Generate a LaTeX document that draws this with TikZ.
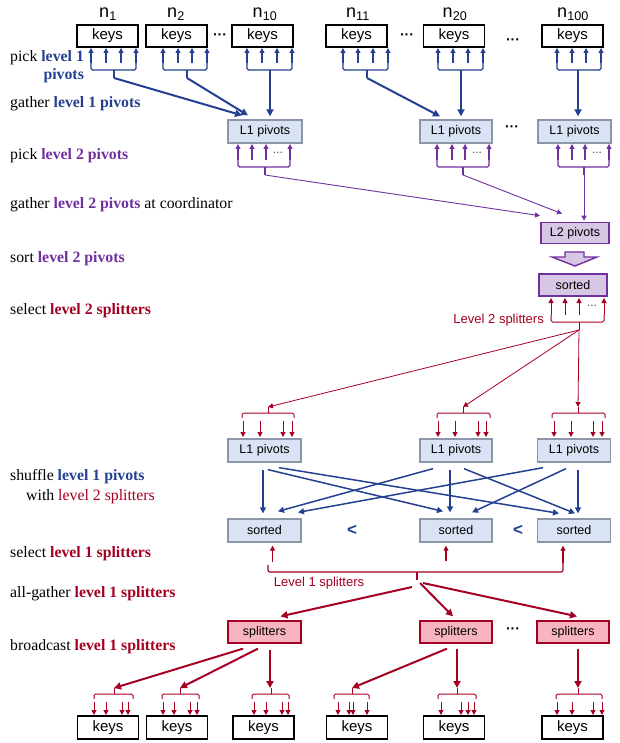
\documentclass[tikz,border=0pt]{standalone}
\usepackage{fontspec}
\setmainfont{Liberation Serif}
\setsansfont{Liberation Sans}
\usetikzlibrary{arrows.meta,calc}
\definecolor{cblue}{RGB}{36,64,145}
\definecolor{cpurple}{RGB}{112,48,160}
\definecolor{cred}{RGB}{165,0,33}
\definecolor{fblue}{RGB}{218,227,243}
\definecolor{bgray}{RGB}{140,150,168}
\definecolor{fpurple}{RGB}{216,199,228}
\definecolor{fpink}{RGB}{248,180,192}
\newcommand{\upfan}[7]{%
  \foreach \xx in {#2} {\draw[#1,arr] (\xx,#7) -- (\xx,#6);}
  \draw[#1,rounded corners=1.5pt] (#3,#7) -- (#3,#7+7) -- (#4,#7+7) -- (#4,#7);
  \draw[#1] (#5,#7+7) -- (#5,#7+15);
}
\newcommand{\downfan}[7]{%
  \draw[#1] (#5,#6) -- (#5,#6+6);
  \draw[#1,rounded corners=1.5pt] (#3,#6+11) -- (#3,#6+6) -- (#4,#6+6) -- (#4,#6+11);
  \foreach \xx in {#2} {\draw[#1,arr] (\xx,#6+14) -- (\xx,#7);}
}
\begin{document}
\begin{tikzpicture}[x=1pt,y=-1pt,
  arr/.style={-{Triangle[length=5pt,width=5pt]}},
  bigarr/.style={-{Triangle[length=7pt,width=7pt]}},
  kbox/.style={draw=black,line width=1.6pt,minimum width=61pt,minimum height=22pt,inner sep=0pt,font=\sffamily\fontsize{15}{15}\selectfont},
  lbox/.style={draw=bgray,fill=fblue,line width=1.3pt,minimum width=73pt,minimum height=23pt,inner sep=0pt,font=\sffamily\fontsize{12.5}{12.5}\selectfont},
  pbox/.style={draw=cpurple,fill=fpurple,line width=1.6pt,minimum width=68pt,minimum height=21pt,inner sep=0pt,font=\sffamily\fontsize{12.5}{12.5}\selectfont},
  sbox/.style={draw=cred,fill=fpink,line width=1.3pt,minimum width=73pt,minimum height=22pt,inner sep=0pt,font=\sffamily\fontsize{12.5}{12.5}\selectfont},
  nlab/.style={font=\sffamily\fontsize{18}{18}\selectfont},
  lab/.style={anchor=base west,inner sep=0pt,font=\rmfamily\fontsize{15.8}{17}\selectfont},
  dotl/.style={font=\sffamily\bfseries\fontsize{14}{14}\selectfont},
  sdot/.style={font=\sffamily\fontsize{10}{10}\selectfont},
  gath/.style={cblue,line width=2pt,bigarr},
  shuf/.style={cblue,line width=1.5pt,-{Triangle[length=6pt,width=6pt]}},
  bcast/.style={cred,line width=2pt,bigarr},
  rthin/.style={cred,line width=0.8pt,-{Triangle[length=5pt,width=5pt]}},
  rmid/.style={cred,line width=1.2pt},
]
\useasboundingbox (0,0) rectangle (619,743);

% ---------- left labels ----------
\node[lab] (lab1) at (10,62) {pick \textcolor{cblue}{\bfseries level 1}};
\node[lab,anchor=base east] (lab1b) at (lab1.base east |- 0,80) {\textcolor{cblue}{\bfseries pivots}};
\node[lab] (lab2) at (10,108) {gather \textcolor{cblue}{\bfseries level 1 pivots}};
\node[lab] (lab3) at (10,160) {pick \textcolor{cpurple}{\bfseries level 2 pivots}};
\node[lab] (lab4) at (10,208) {gather \textcolor{cpurple}{\bfseries level 2 pivots} at coordinator};
\node[lab] (lab5) at (10,262) {sort \textcolor{cpurple}{\bfseries level 2 pivots}};
\node[lab] (lab6) at (10,314) {select \textcolor{cred}{\bfseries level 2 splitters}};
\node[lab] (lab7) at (10,480) {shuffle \textcolor{cblue}{\bfseries level 1 pivots}};
\node[lab] (lab7b) at (26,500) {with \textcolor{cred}{level 2 splitters}};
\node[lab] (lab8) at (10,557) {select \textcolor{cred}{\bfseries level 1 splitters}};
\node[lab] (lab9) at (10,597) {all-gather \textcolor{cred}{\bfseries level 1 splitters}};
\node[lab] (lab10) at (10,650) {broadcast \textcolor{cred}{\bfseries level 1 splitters}};

% ---------- top keys ----------
\node[kbox] (k1) at (107.5,36) {keys};
\node[kbox] (k2) at (176.5,36) {keys};
\node[kbox] (k3) at (262.5,36) {keys};
\node[kbox] (k4) at (356.5,36) {keys};
\node[kbox] (k5) at (454,36) {keys};
\node[kbox] (k6) at (572.5,36) {keys};
\node[nlab] (n1) at (108,14) {n\textsubscript{1}};
\node[nlab] (n2) at (176,14) {n\textsubscript{2}};
\node[nlab] (n10) at (265,14) {n\textsubscript{10}};
\node[nlab] (n11) at (358,14) {n\textsubscript{11}};
\node[nlab] (n20) at (455,14) {n\textsubscript{20}};
\node[nlab] (n100) at (573,14) {n\textsubscript{100}};
\node[dotl] (d1) at (220,37) {···};
\node[dotl] (d2) at (407,37) {···};
\node[dotl] (d3) at (513,42) {···};

% blue pick fans
\upfan{cblue,line width=1.1pt}{91,106,121,136}{91}{136}{114}{48}{63}
\upfan{cblue,line width=1.1pt}{163,178,192,207}{163}{207}{187}{48}{63}
\upfan{cblue,line width=1.1pt}{247,262,277,292}{247}{292}{270}{48}{63}
\upfan{cblue,line width=1.1pt}{343,358,373,388}{343}{388}{367}{48}{63}
\upfan{cblue,line width=1.1pt}{438,453,468,483}{438}{483}{461}{48}{63}
\upfan{cblue,line width=1.1pt}{557,572,586,601}{557}{601}{578}{48}{63}
\coordinate (t1) at (114,78);
\coordinate (t2) at (187,78);
\coordinate (t3) at (270,78);
\coordinate (t4) at (367,78);
\coordinate (t5) at (461,78);
\coordinate (t6) at (578,78);

% ---------- L1 pivots (top) ----------
\node[lbox,minimum width=74pt] (la) at (265,131.5) {L1 pivots};
\node[lbox,minimum width=72pt] (lb) at (456,131.5) {L1 pivots};
\node[lbox] (lc) at (574.5,131.5) {L1 pivots};
\node[dotl] (d4) at (512,129) {···};

\draw[gath] (t1) -- ($(la.north)+(-23,-4)$);
\draw[gath] (t2) -- ($(la.north)+(-17,-4)$);
\draw[gath] (t3) -- ($(t3 |- la.north)+(0,-3)$);
\draw[gath] (t4) -- ($(lb.north)+(-16,-3)$);
\draw[gath] (t5) -- ($(t5 |- lb.north)+(0,-3)$);
\draw[gath] (t6) -- ($(t6 |- lc.north)+(0,-3)$);

% purple pick fans
\upfan{cpurple,line width=1.1pt}{238,252,266,290}{238}{290}{265}{144}{160}
\upfan{cpurple,line width=1.1pt}{437,452,465,489}{437}{489}{463}{144}{160}
\upfan{cpurple,line width=1.1pt}{558,572,585,609}{558}{609}{584}{144}{160}
\node[sdot] (e1) at (278,154) {···};
\node[sdot] (e2) at (477,154) {···};
\node[sdot] (e3) at (597,154) {···};
\coordinate (p1) at (265,175);
\coordinate (p2) at (463,175);
\coordinate (p3) at (584,175);

% ---------- L2 pivots ----------
\node[pbox] (l2) at (575,233) {L2 pivots};
\draw[cpurple,line width=0.9pt,-{Triangle[length=5pt,width=5pt]}] (p1) -- ($(l2.north)+(-35,-6)$);
\draw[cpurple,line width=0.9pt,-{Triangle[length=5pt,width=5pt]}] (p2) -- ($(l2.north)+(-13,-8)$);
\draw[cpurple,line width=0.9pt,-{Triangle[length=5pt,width=5pt]}] (p3) -- ($(p3 |- l2.north)+(0,-1)$);

\draw[cpurple,fill=fpurple,line width=1.4pt] (565,252) -- (584,252) -- (584,257) -- (597,257) -- (575,266) -- (552,257) -- (565,257) -- cycle;
\node[pbox,minimum height=22pt] (sp) at (573,285) {sorted};

\upfan{cred,line width=1pt}{551,565,579,604}{551}{604}{579}{298}{315}
\node[sdot] (e4) at (592,307) {···};
\coordinate (s2) at (579,330);
\node[anchor=east,inner sep=0pt,text=cred,font=\sffamily\fontsize{13}{13}\selectfont] (lv2) at (544,320) {Level 2 splitters};

% ---------- middle L1 pivots ----------
\node[lbox] (ma) at (264.5,450.5) {L1 pivots};
\node[lbox,minimum width=72pt] (mb) at (456,450.5) {L1 pivots};
\node[lbox] (mc) at (574,450.5) {L1 pivots};
\coordinate (m1) at (268,407);
\coordinate (m2) at (463,407);
\coordinate (m3) at (578,407);
\draw[rthin] (s2) -- (m1);
\draw[rthin] (s2) -- (m2);
\draw[rthin] (s2) -- (m3);
\downfan{cred,line width=1pt}{243,260,283,292}{242}{294}{268}{407}{437}
\downfan{cred,line width=1pt}{438,455,478,486}{437}{490}{463}{407}{437}
\downfan{cred,line width=1pt}{554,571,593,602}{552}{605}{578}{407}{437}

% ---------- sorted (blue) ----------
\node[lbox] (sa) at (264.5,530.5) {sorted};
\node[lbox,minimum width=72pt] (sb) at (456,530.5) {sorted};
\node[lbox] (sc) at (574,530.5) {sorted};
\node[text=cblue,font=\sffamily\bfseries\fontsize{17}{17}\selectfont] (lt1) at (352,530) {<};
\node[text=cblue,font=\sffamily\bfseries\fontsize{17}{17}\selectfont] (lt2) at (518,530) {<};

\draw[shuf] ($(ma.south)+(-1.5,7)$) -- ($(sa.north)+(-1.5,-5)$);
\draw[shuf] ($(ma.south)+(3.5,7)$) -- ($(sb.north)+(-13,-7)$);
\draw[shuf] ($(ma.south)+(14.5,5)$) -- ($(sc.north)+(-15,-5)$);
\draw[shuf] ($(mb.south)+(-23,6)$) -- ($(sa.north)+(13.5,-7)$);
\draw[shuf] ($(mb.south)+(-6,7)$) -- ($(sb.north)+(-6,-6)$);
\draw[shuf] ($(mb.south)+(8,6)$) -- ($(sc.north)+(1,-5)$);
\draw[shuf] ($(mc.south)+(-31,5)$) -- ($(sa.north)+(33.5,-6)$);
\draw[shuf] ($(mc.south)+(-8,6)$) -- ($(sb.north)+(16,-6)$);
\draw[shuf] ($(mc.south)+(4,7)$) -- ($(sc.north)+(4,-5)$);

% select level 1 splitters
\draw[rmid,arr] ($(sa.south)+(8,19)$) -- ($(sa.south)+(8,3)$);
\draw[rmid,arr] ($(sb.south)+(-10,18)$) -- ($(sb.south)+(-10,3)$);
\draw[rmid,arr] ($(sc.south)+(-11,20)$) -- ($(sc.south)+(-11,3)$);
\draw[rmid,rounded corners=2pt] (268,565) -- (268,572) -- (563,572) -- (563,562);
\draw[rmid] (417,572) -- (417,580);
\coordinate (g1) at (417,580);
\node[text=cred,font=\sffamily\fontsize{13}{13}\selectfont] (lv1) at (319,583) {Level 1 splitters};

% ---------- splitters ----------
\node[sbox] (xa) at (264.5,632) {splitters};
\node[sbox,minimum width=72pt] (xb) at (456,632) {splitters};
\node[sbox,minimum width=72pt] (xc) at (573,632) {splitters};
\node[dotl] (d5) at (513,631) {···};
\draw[bcast] ($(g1)+(-5,7)$) -- ($(xa.north)+(16,-4)$);
\draw[bcast] ($(g1)+(3,3)$) -- ($(xb.north)+(-3,-4)$);
\draw[bcast] ($(g1)+(6,3)$) -- ($(xc.north)+(4,-4)$);

% ---------- bottom ----------
\coordinate (c1) at (114,688);
\coordinate (c2) at (180,688);
\coordinate (c3) at (270,688);
\coordinate (c4) at (352,688);
\coordinate (c5) at (457,688);
\coordinate (c6) at (578,688);
\draw[bcast] ($(xa.south)+(-21.5,5)$) -- (c1);
\draw[bcast] ($(xa.south)+(-6.5,5)$) -- (c2);
\draw[bcast] ($(c3 |- xa.south)+(0,6)$) -- (c3);
\draw[bcast] ($(xb.south)+(-9,5)$) -- (c4);
\draw[bcast] ($(c5 |- xb.south)+(0,5)$) -- (c5);
\draw[bcast] ($(c6 |- xc.south)+(0,5)$) -- (c6);

\downfan{cred,line width=1pt}{94,106,122,128}{94}{133}{114}{688}{715}
\downfan{cred,line width=1pt}{163,174,190,197}{162}{199}{180}{688}{715}
\downfan{cred,line width=1pt}{254,266,282,288}{252}{289}{271}{688}{715}
\downfan{cred,line width=1pt}{338,349,353,367}{334}{369}{352}{688}{715}
\downfan{cred,line width=1pt}{441,461,468,474}{438}{476}{457}{688}{715}
\downfan{cred,line width=1pt}{557,572,593,602}{556}{602}{578}{688}{715}

\node[kbox,minimum height=23pt] (b1) at (108,727.5) {keys};
\node[kbox,minimum height=23pt] (b2) at (177,727.5) {keys};
\node[kbox,minimum height=23pt] (b3) at (263.5,727.5) {keys};
\node[kbox,minimum height=23pt] (b4) at (357,727.5) {keys};
\node[kbox,minimum height=23pt] (b5) at (454,727.5) {keys};
\node[kbox,minimum height=23pt] (b6) at (572.5,727.5) {keys};
\end{tikzpicture}
\end{document}
